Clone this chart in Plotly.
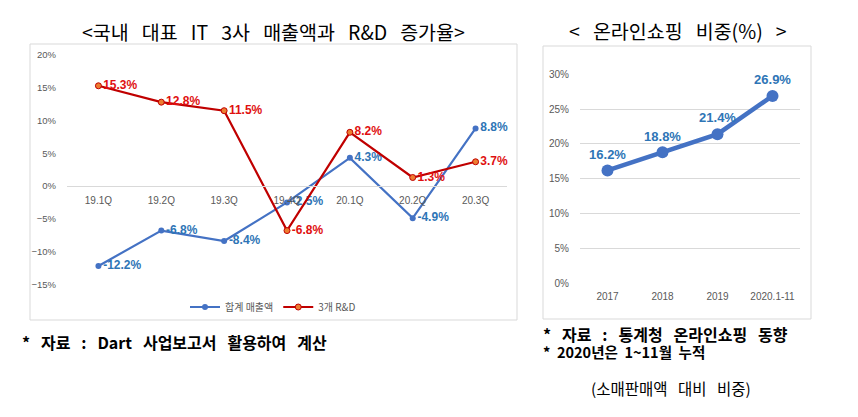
import plotly.graph_objects as go

W, H = 858, 417

# ---- data ----
quarters = ["19.1Q", "19.2Q", "19.3Q", "19.4Q", "20.1Q", "20.2Q", "20.3Q"]
sales_growth = [-12.2, -6.8, -8.4, -2.5, 4.3, -4.9, 8.8]
rnd_growth = [15.3, 12.8, 11.5, -6.8, 8.2, 1.3, 3.7]
sales_name = "합계 매출액"
rnd_name = "3개 R&D"

years = ["2017", "2018", "2019", "2020.1-11"]
online_share = [16.2, 18.8, 21.4, 26.9]

left_title = "<국내 대표 IT 3사 매출액과 R&D 증가율>"
right_title = "< 온라인쇼핑 비중(%) >"
left_note = "* 자료 : Dart 사업보고서 활용하여 계산"
right_note1 = "* 자료 : 통계청 온라인쇼핑 동향"
right_note2 = "* 2020년은 1~11월 누적"
right_note3 = "(소매판매액 대비 비중)"

def px_x(p):
    return p / W

def px_y(p):
    return 1 - p / H

def wide(s, n=2):
    return s.replace(" ", "\u00a0" * n)

KFONT = "Noto Sans CJK KR"
NFONT = "Liberation Sans, Noto Sans CJK KR"
GRAY = "#595959"
BLUE = "#4472C4"
BLUE_T = "#2E75B6"
RED_L = "#C00000"
RED_T = "#E01010"

fig = go.Figure()

fig.add_trace(go.Scatter(
    x=quarters, y=sales_growth, name=sales_name, mode="lines+markers+text",
    line=dict(color=BLUE, width=2.2), marker=dict(size=6, color=BLUE),
    text=[f"{v:.1f}%" for v in sales_growth], textposition="middle right",
    textfont=dict(family=NFONT, size=12, color=BLUE_T, weight="bold"),
    cliponaxis=False, xaxis="x", yaxis="y"))

fig.add_trace(go.Scatter(
    x=quarters, y=rnd_growth, name=rnd_name, mode="lines+markers+text",
    line=dict(color=RED_L, width=2.2),
    marker=dict(size=6, color="#ED7D31", line=dict(color=RED_L, width=1)),
    text=[f"{v:.1f}%" for v in rnd_growth], textposition="middle right",
    textfont=dict(family=NFONT, size=12, color=RED_T, weight="bold"),
    cliponaxis=False, xaxis="x", yaxis="y"))

fig.add_trace(go.Scatter(
    x=years, y=online_share, mode="lines+markers+text", showlegend=False,
    line=dict(color=BLUE, width=4.5), marker=dict(size=12, color=BLUE),
    text=[f"{v:.1f}%" for v in online_share], textposition="top center",
    textfont=dict(family=NFONT, size=13, color=BLUE_T, weight="bold"),
    cliponaxis=False, xaxis="x2", yaxis="y2"))

# left axes geometry
ly0, ly1 = px_y(284.3), px_y(55)
lrange = [-15, 20]
zero_pos = ly0 + (0 - lrange[0]) / (lrange[1] - lrange[0]) * (ly1 - ly0)

fig.update_layout(
    width=W, height=H,
    margin=dict(l=0, r=0, t=0, b=0, pad=0, autoexpand=False),
    paper_bgcolor="white", plot_bgcolor="white",
    font=dict(family=NFONT, color=GRAY, size=10),
    xaxis=dict(domain=[px_x(67), px_x(507)], anchor="free", position=zero_pos,
               range=[-0.5, len(quarters) - 0.5],
               showline=True, linecolor="#D9D9D9", linewidth=1, showgrid=False,
               ticks="", tickfont=dict(size=10, color=GRAY), ticklabelstandoff=5,
               automargin=False),
    yaxis=dict(domain=[ly0, ly1], range=lrange, dtick=5, ticksuffix="%",
               showgrid=False, zeroline=False, showline=False,
               tickfont=dict(size=9.5, color=GRAY), ticklabelstandoff=10,
               automargin=False),
    xaxis2=dict(domain=[px_x(580), px_x(800)], anchor="y2",
                range=[-0.5, len(years) - 0.5], showline=False,
                showgrid=False, ticks="", tickfont=dict(size=10, color=GRAY),
                ticklabelstandoff=6, automargin=False),
    yaxis2=dict(domain=[px_y(283.3), px_y(74.3)], range=[0, 30], dtick=5,
                ticksuffix="%", anchor="x2", showgrid=True, gridcolor="#D9D9D9",
                gridwidth=1, zeroline=False, showline=False,
                tickfont=dict(size=10, color=GRAY), ticklabelstandoff=10,
                automargin=False),
    legend=dict(orientation="h", x=px_x(273), y=px_y(307), xanchor="center",
                yanchor="middle", font=dict(size=10, color=GRAY, family=KFONT),
                itemwidth=30, bgcolor="rgba(0,0,0,0)"),
    shapes=[
        dict(type="rect", xref="paper", yref="paper",
             x0=px_x(30), x1=px_x(517), y0=px_y(320), y1=px_y(44),
             line=dict(color="#D9D9D9", width=1), layer="below"),
        dict(type="rect", xref="paper", yref="paper",
             x0=px_x(543), x1=px_x(811), y0=px_y(319), y1=px_y(46),
             line=dict(color="#D9D9D9", width=1), layer="below"),
    ],
)

titles = [
    (wide(left_title, 3), 273, 32),
    (wide(right_title, 3), 678, 31),
]
for t, xx, yy in titles:
    fig.add_annotation(text=t, x=px_x(xx), y=px_y(yy), xref="paper", yref="paper",
                       xanchor="center", yanchor="middle", showarrow=False,
                       font=dict(family=KFONT, size=19.5, color="black"))

notes = [
    (wide(left_note, 3), 20, 342, 16),
    (wide(right_note1, 3), 541, 334, 16),
    (wide(right_note2, 2), 541, 351, 14.5),
]
for t, xx, yy, s in notes:
    fig.add_annotation(text=t, x=px_x(xx), y=px_y(yy), xref="paper", yref="paper",
                       xanchor="left", yanchor="middle", showarrow=False,
                       font=dict(family=KFONT, size=s, color="black", weight="bold"))
fig.add_annotation(text=wide(right_note3, 3), x=px_x(671), y=px_y(388), xref="paper",
                   yref="paper", xanchor="center", yanchor="middle", showarrow=False,
                   font=dict(family=KFONT, size=15.5, color="black"))

fig.write_html("out.html", config={"displayModeBar": False},
               post_script="document.body.style.margin='0';")
